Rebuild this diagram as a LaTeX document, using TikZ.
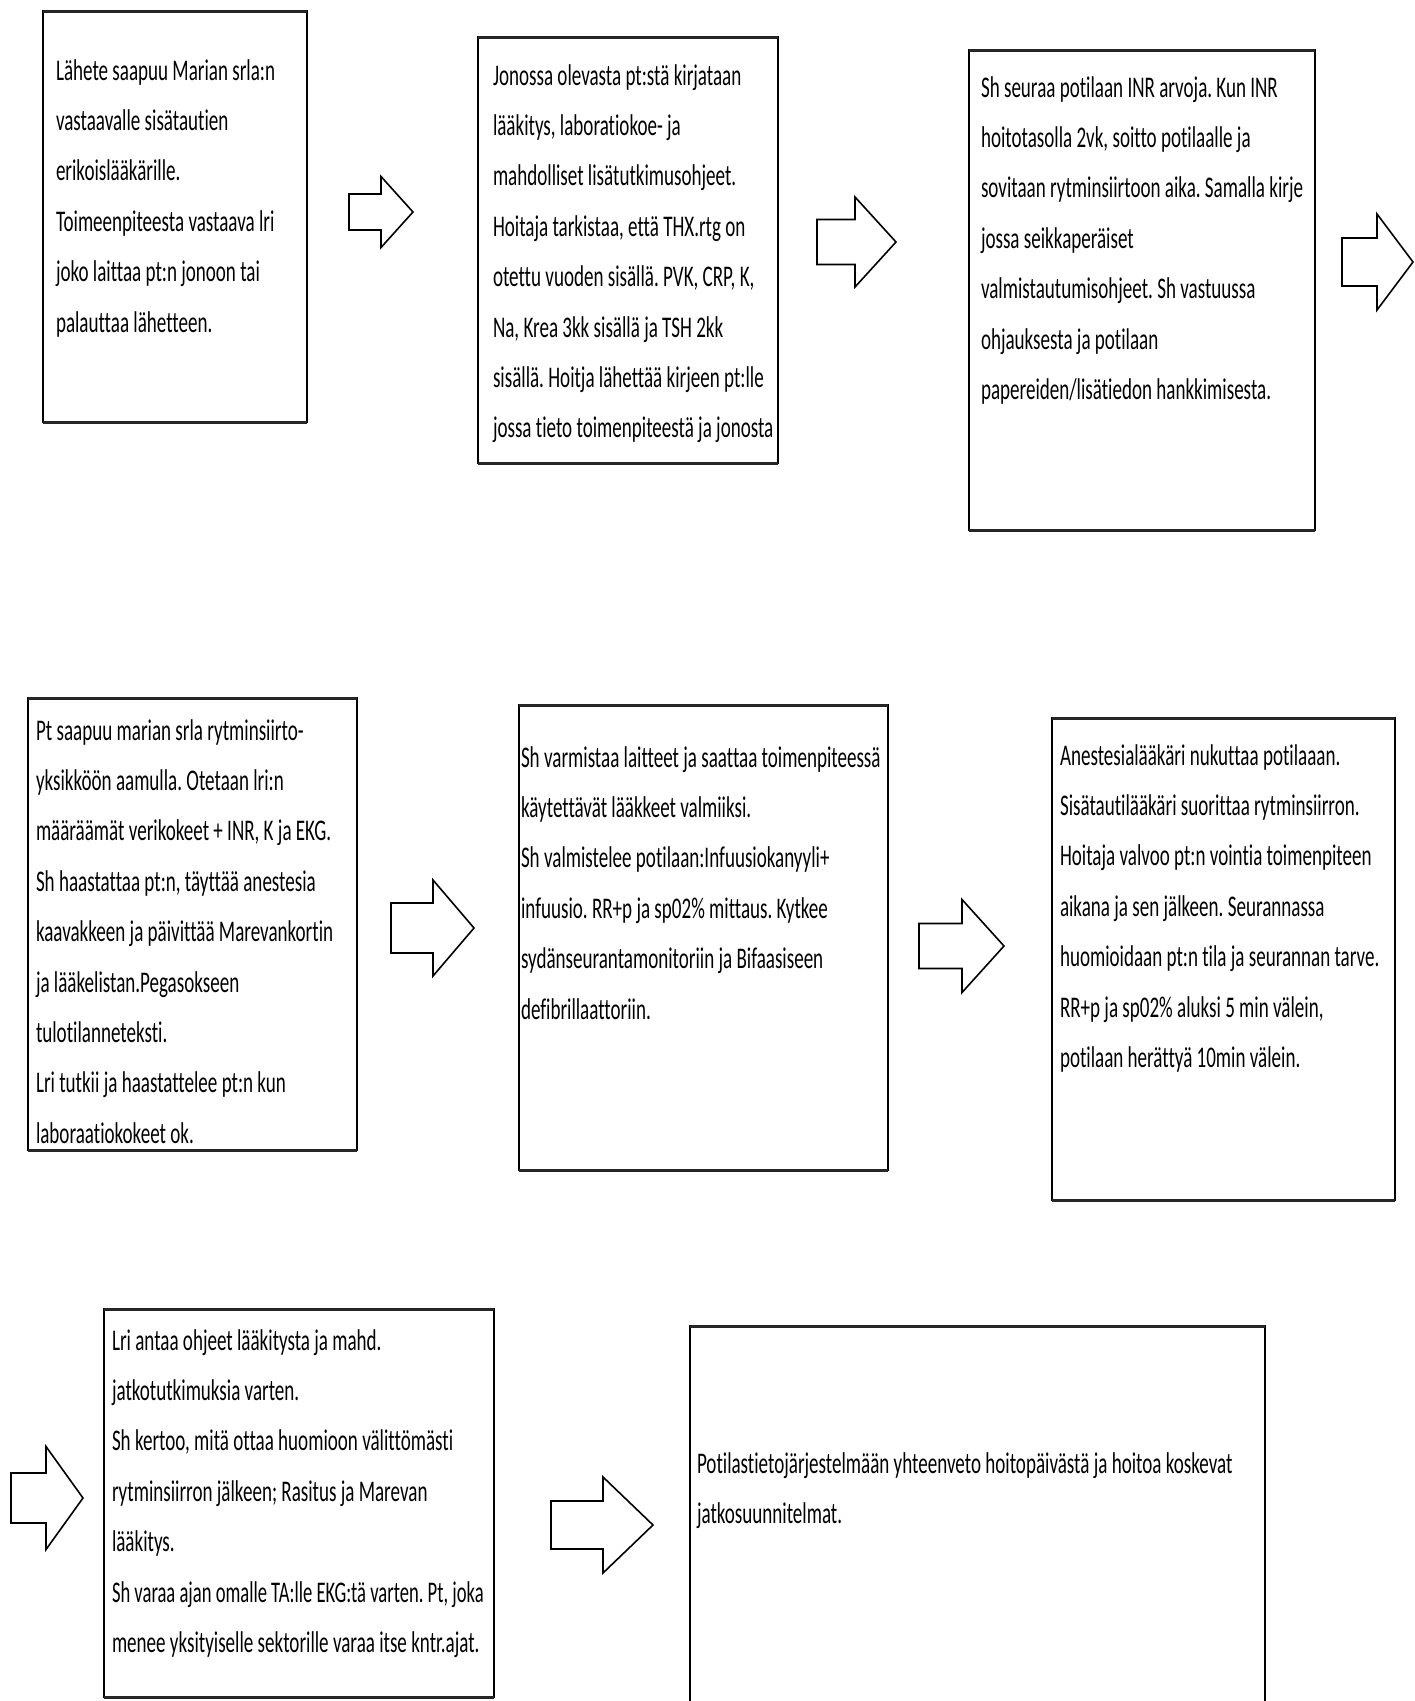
\documentclass[tikz,border=0pt]{standalone}
\usepackage{fontspec}
\usepackage{graphicx}
\newfontfamily\boxfont[FakeStretch=0.635,Ligatures={NoCommon,NoDiscretionary,NoContextual}]{Carlito}
\frenchspacing
\newcommand\blkarrow[7]{%
  \coordinate (#1) at (#2,#5);
  \draw[arr] ({#2},{#5-#6}) -- ({#3},{#5-#6}) -- ({#3},{#5-#7}) -- ({#4},{#5})
     -- ({#3},{#5+#7}) -- ({#3},{#5+#6}) -- ({#2},{#5+#6}) -- cycle;}
\begin{document}
\begin{tikzpicture}[x=1pt,y=-1pt,
  boxst/.style={draw=black, line width=1.5pt, fill=white, inner sep=0pt, outer sep=0pt, anchor=north west},
  hedge/.style={draw=black!85, line width=3pt},
  txt/.style={anchor=base west, inner sep=0pt, outer sep=0pt, text=black,
     font=\boxfont\fontsize{30}{50.4}\selectfont\frenchspacing},
  arr/.style={draw=black, line width=1.6pt, fill=white, line join=miter}]
\useasboundingbox (0,0) rectangle (1415,1701);
\fill[white] (0,0) rectangle (1415,1701);

% boxes
\node[boxst, minimum width=264pt, minimum height=411pt] (b1) at (43,11) {};
\node[boxst, minimum width=300pt, minimum height=426pt] (b2) at (478,37) {};
\node[boxst, minimum width=346pt, minimum height=480pt] (b3) at (969,50) {};
\node[boxst, minimum width=329pt, minimum height=452pt] (b4) at (28,698) {};
\node[boxst, minimum width=369pt, minimum height=465pt] (b5) at (519,705) {};
\node[boxst, minimum width=343pt, minimum height=482pt] (b6) at (1052,718) {};
\node[boxst, minimum width=390pt, minimum height=388pt] (b7) at (104,1309) {};
\node[boxst, minimum width=575pt, minimum height=400pt] (b8) at (690,1326) {};

\foreach \b in {b1,b2,b3,b4,b5,b6,b7}{
  \draw[hedge] (\b.north west) -- (\b.north east);
  \draw[hedge] (\b.south west) -- (\b.south east);
}
\draw[hedge] (b8.north west) -- (b8.north east);

% texts
\node[txt] (t1) at (56,80) {\begin{tabular}[t]{@{}l@{}}
Lähete saapuu Marian srla:n\\
vastaavalle sisätautien\\
erikoislääkärille.\\
Toimeenpiteesta vastaava lri\\
joko laittaa pt:n jonoon tai\\
palauttaa lähetteen.
\end{tabular}};

\node[txt] (t2) at (493,85) {\begin{tabular}[t]{@{}l@{}}
Jonossa olevasta pt:stä kirjataan\\
lääkitys, laboratiokoe- ja\\
mahdolliset lisätutkimusohjeet.\\
Hoitaja tarkistaa, että THX.rtg on\\
otettu vuoden sisällä. PVK, CRP, K,\\
Na, Krea 3kk sisällä ja TSH 2kk\\
sisällä. Hoitja lähettää kirjeen pt:lle\\
jossa tieto toimenpiteestä ja jonosta
\end{tabular}};

\node[txt] (t3) at (981,97) {\begin{tabular}[t]{@{}l@{}}
Sh seuraa potilaan INR arvoja. Kun INR\\
hoitotasolla 2vk, soitto potilaalle ja\\
sovitaan rytminsiirtoon aika. Samalla kirje\\
jossa seikkaperäiset\\
valmistautumisohjeet. Sh vastuussa\\
ohjauksesta ja potilaan\\
papereiden/lisätiedon hankkimisesta.
\end{tabular}};

\node[txt] (t4) at (36,740) {\begin{tabular}[t]{@{}l@{}}
Pt saapuu marian srla rytminsiirto-\\
yksikköön aamulla. Otetaan lri:n\\
määräämät verikokeet + INR, K ja EKG.\\
Sh haastattaa pt:n, täyttää anestesia\\
kaavakkeen ja päivittää Marevankortin\\
ja lääkelistan.Pegasokseen\\
tulotilanneteksti.\\
Lri tutkii ja haastattelee pt:n kun\\
laboraatiokokeet ok.
\end{tabular}};

\node[txt] (t5) at (521,767) {\begin{tabular}[t]{@{}l@{}}
Sh varmistaa laitteet ja saattaa toimenpiteessä\\
käytettävät lääkkeet valmiiksi.\\
Sh valmistelee potilaan:Infuusiokanyyli+\\
infuusio. RR+p ja sp02\% mittaus. Kytkee\\
sydänseurantamonitoriin ja Bifaasiseen\\
defibrillaattoriin.
\end{tabular}};

\node[txt] (t6) at (1060,765) {\begin{tabular}[t]{@{}l@{}}
Anestesialääkäri nukuttaa potilaaan.\\
Sisätautilääkäri suorittaa rytminsiirron.\\
Hoitaja valvoo pt:n vointia toimenpiteen\\
aikana ja sen jälkeen. Seurannassa\\
huomioidaan pt:n tila ja seurannan tarve.\\
RR+p ja sp02\% aluksi 5 min välein,\\
potilaan herättyä 10min välein.
\end{tabular}};

\node[txt] (t7) at (112,1350) {\begin{tabular}[t]{@{}l@{}}
Lri antaa ohjeet lääkitysta ja mahd.\\
jatkotutkimuksia varten.\\
Sh kertoo, mitä ottaa huomioon välittömästi\\
rytminsiirron jälkeen; Rasitus ja Marevan\\
lääkitys.\\
\scalebox{0.975}[1]{Sh varaa ajan omalle TA:lle EKG:tä varten. Pt, joka}\\
menee yksityiselle sektorille varaa itse kntr.ajat.
\end{tabular}};

\node[txt] (t8) at (697,1473) {\begin{tabular}[t]{@{}l@{}}
Potilastietojärjestelmään yhteenveto hoitopäivästä ja hoitoa koskevat\\
jatkosuunnitelmat.
\end{tabular}};

% block arrows: name, tail x, head base x, tip x, centre y, shaft half, head half
\blkarrow{a1}{349}{381}{413}{212}{18}{35.5}
\blkarrow{a2}{817}{855}{896}{242}{22.5}{45}
\blkarrow{a3}{1342}{1377}{1413}{262}{24}{48}
\blkarrow{a4}{391}{433}{474}{928}{25}{48}
\blkarrow{a5}{919}{962}{1004}{946}{22.5}{46.5}
\blkarrow{a6}{11}{46}{83}{1498}{25}{51.5}
\blkarrow{a7}{551}{603}{653}{1525}{24}{48}
\end{tikzpicture}
\end{document}
